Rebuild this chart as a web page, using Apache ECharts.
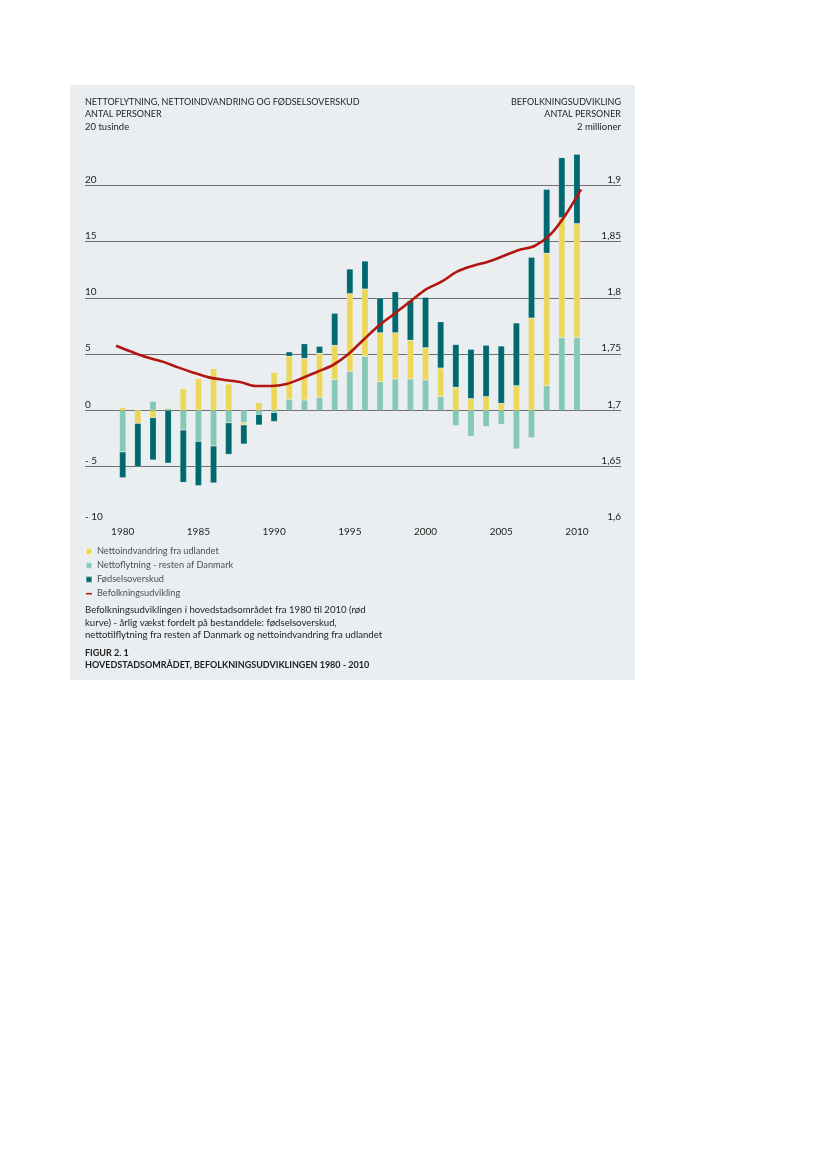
<!DOCTYPE html>
<html>
<head>
<meta charset="utf-8">
<script src="https://cdn.jsdelivr.net/npm/echarts@6/dist/echarts.min.js"></script>
<style>
html,body{margin:0;padding:0;background:#fff;}
#c{width:827px;height:1169px;}
</style>
</head>
<body>
<div id="c"></div>
<script>
const years = [1980,1981,1982,1983,1984,1985,1986,1987,1988,1989,1990,1991,1992,1993,1994,1995,1996,1997,1998,1999,2000,2001,2002,2003,2004,2005,2006,2007,2008,2009,2010];
// Nettoflytning - resten af Danmark (tusinde)
const danmark = [-3.7,0,0.8,0.15,-1.75,-2.76,-3.17,-1.1,-1.1,-0.36,-0.2,0.98,0.92,1.16,2.73,3.47,4.8,2.55,2.79,2.79,2.7,1.22,-1.36,-2.31,-1.45,-1.25,-3.44,-2.43,2.19,6.47,6.47];
// Nettoindvandring fra udlandet (tusinde)
const udland = [0.25,-1.16,-0.65,0.1,1.93,2.82,3.7,2.34,-0.2,0.68,3.38,3.83,3.7,3.91,3.05,6.91,5.99,4.35,4.11,3.44,2.87,2.54,2.05,1.04,1.22,0.62,2.19,8.21,11.78,10.67,10.14];
// Fødselsoverskud (tusinde)
const foedsel = [-2.3,-3.85,-3.77,-4.7,-4.66,-3.94,-3.29,-2.82,-1.7,-0.95,-0.8,0.39,1.3,0.62,2.85,2.19,2.49,3.09,3.65,3.52,4.48,4.12,3.8,4.39,4.57,5.1,5.58,5.4,5.69,5.34,6.17];
// Befolkningsudvikling (millioner)
const befolkning = [1.7575,1.7521,1.7471,1.7433,1.7382,1.7335,1.7293,1.727,1.7252,1.7216,1.7216,1.7234,1.7285,1.7343,1.7403,1.7501,1.7632,1.7759,1.7863,1.797,1.8076,1.8144,1.8233,1.8284,1.8322,1.8373,1.8426,1.8462,1.856,1.8738,1.8966];
const leftTickLabels = {"-10":"- 10","-5":"- 5","0":"0","5":"5","10":"10","15":"15","20":"20","25":""};
const rightTickLabels = {"1.6":"1,6","1.65":"1,65","1.7":"1,7","1.75":"1,75","1.8":"1,8","1.85":"1,85","1.9":"1,9","1.95":""};

const C_YEL = '#ecd75a', C_TEAL = '#84c8b5', C_DARK = '#006970', C_RED = '#b3160f';
const FONT = 'Lato, "Open Sans", sans-serif';
const linePairs = years.map((y,i)=>[y, befolkning[i]]);

const chart = echarts.init(document.getElementById('c'), null, {renderer:'canvas'});

const txt = (x,y,text,opt={}) => ({type:'text', x, y, silent:true, z:10,
  style:{text, fill:opt.fill||'#1e1e1e', font:(opt.weight||'normal')+' '+(opt.size||9.5)+'px '+FONT,
  textAlign:opt.align||'left', textVerticalAlign:'middle'}});

const barStyle = c => ({color:c, borderColor:'rgba(255,255,255,0.35)', borderWidth:0.5});

chart.setOption({
  animation:false,
  backgroundColor:'#ffffff',
  graphic:[
    {type:'rect', shape:{x:70,y:85,width:565,height:595}, style:{fill:'#eaeef1'}, z:-10, silent:true},
    txt(85,102,'NETTOFLYTNING, NETTOINDVANDRING OG FØDSELSOVERSKUD',{size:9}),
    txt(85,114.5,'ANTAL PERSONER',{size:9}),
    txt(85,127,'20 tusinde'),
    txt(621,102,'BEFOLKNINGSUDVIKLING',{align:'right',size:9}),
    txt(621,114.5,'ANTAL PERSONER',{align:'right',size:9}),
    txt(621,127,'2 millioner',{align:'right'}),
    txt(85,610,'Befolkningsudviklingen i hovedstadsområdet fra 1980 til 2010 (rød',{size:9.6}),
    txt(85,622.5,'kurve) - årlig vækst fordelt på bestanddele: fødselsoverskud,',{size:9.6}),
    txt(85,635,'nettotilflytning fra resten af Danmark og nettoindvandring fra udlandet',{size:9.6}),
    txt(85,653,'FIGUR 2. 1',{weight:'bold',size:9}),
    txt(85,665.5,'HOVEDSTADSOMRÅDET, BEFOLKNINGSUDVIKLINGEN 1980 - 2010',{weight:'bold',size:9})
  ],
  legend:{
    orient:'vertical', left:80, top:542, itemWidth:6, itemHeight:6, itemGap:5,
    textStyle:{fontFamily:FONT, fontSize:9.2, color:'#4f4f4f'},
    data:[
      {name:'Nettoindvandring fra udlandet', icon:'rect'},
      {name:'Nettoflytning - resten af Danmark', icon:'rect'},
      {name:'Fødselsoverskud', icon:'rect'},
      {name:'Befolkningsudvikling', icon:'path://M0,0L0,0M0,4L10,4L10,6.6L0,6.6ZM10,10L10,10'}
    ]
  },
  grid:[
    {left:85, top:129.3, width:536, height:393.4},
    {left:115.13, top:129.3, width:469.4, height:393.4}
  ],
  xAxis:[
    {type:'value', min:1978, max:2012.58, gridIndex:0, show:false},
    {type:'category', data:years, gridIndex:1, boundaryGap:true,
     axisLine:{show:false}, axisTick:{show:false}, splitLine:{show:false},
     axisLabel:{interval:4, fontFamily:FONT, fontSize:10, color:'#1e1e1e', margin:4}}
  ],
  yAxis:[
    {type:'value', min:-10, max:25, interval:5, position:'left', gridIndex:0,
     axisLine:{show:false}, axisTick:{show:false},
     axisLabel:{inside:true, margin:0, verticalAlign:'bottom', padding:[0,0,1,0],
       formatter:v=>leftTickLabels[String(v)] ?? String(v), fontFamily:FONT, fontSize:10, color:'#1e1e1e'},
     splitLine:{show:true, lineStyle:{width:1, color:['rgba(0,0,0,0)','#6f6f6f','#6f6f6f','#6f6f6f','#6f6f6f','#6f6f6f','#6f6f6f','rgba(0,0,0,0)']}}},
    {type:'value', min:1.6, max:1.95, interval:0.05, position:'right', gridIndex:0,
     axisLine:{show:false}, axisTick:{show:false}, splitLine:{show:false},
     axisLabel:{inside:true, margin:0, verticalAlign:'bottom', padding:[0,0,1,0],
       formatter:v=>rightTickLabels[String(Math.round(v*100)/100)] ?? String(v), fontFamily:FONT, fontSize:10, color:'#1e1e1e'}},
    {type:'value', min:-10, max:25, interval:5, gridIndex:1, show:false, splitLine:{show:false}}
  ],
  series:[
    {name:'Nettoflytning - resten af Danmark', type:'bar', stack:'a', barWidth:6.5, xAxisIndex:1, yAxisIndex:2,
     itemStyle:barStyle(C_TEAL), data:danmark},
    {name:'Nettoindvandring fra udlandet', type:'bar', stack:'a', barWidth:6.5, xAxisIndex:1, yAxisIndex:2,
     itemStyle:barStyle(C_YEL), data:udland},
    {name:'Fødselsoverskud', type:'bar', stack:'a', barWidth:6.5, xAxisIndex:1, yAxisIndex:2,
     itemStyle:barStyle(C_DARK), data:foedsel},
    {name:'Befolkningsudvikling', type:'line', xAxisIndex:0, yAxisIndex:1, smooth:0.3, symbol:'none',
     lineStyle:{color:C_RED, width:2.6}, itemStyle:{color:C_RED}, z:5, data:linePairs}
  ]
});
</script>
</body>
</html>
